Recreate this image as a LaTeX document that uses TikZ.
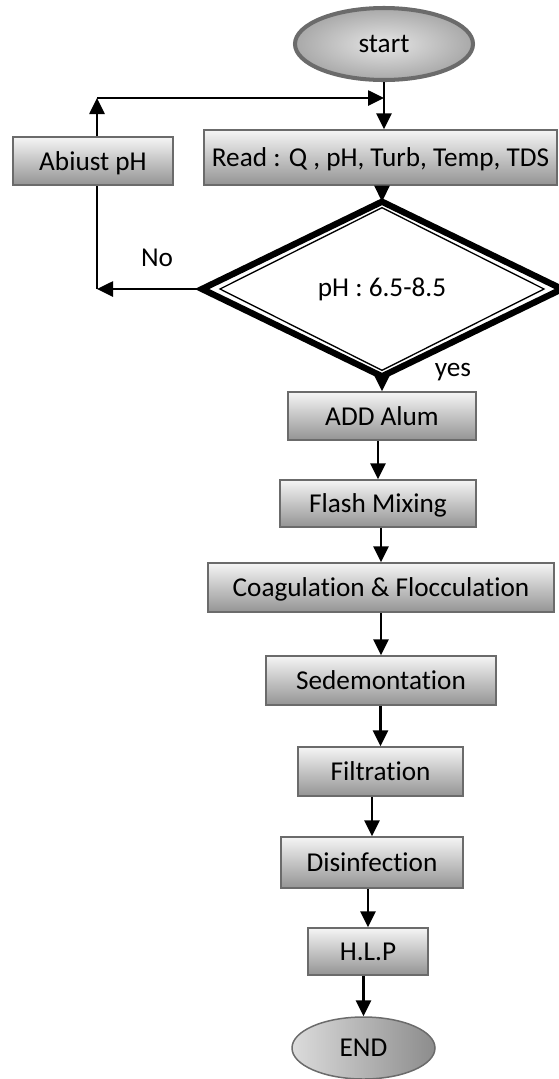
\documentclass[tikz,border=0pt]{standalone}
\usepackage{fontspec}
\setmainfont[Ligatures=NoCommon]{Carlito}
\usepackage{tikz}
\usetikzlibrary{shapes,arrows.meta,positioning}
\tikzstyle{box} = [rectangle, draw=black!58, line width=0.85pt, top color=black!4, bottom color=black!42, font=\fontsize{15.5}{18}\selectfont, inner sep=0pt, text depth=0pt]
\tikzstyle{term} = [ellipse, draw=black!58, font=\fontsize{15.5}{18}\selectfont, inner sep=0pt]
\tikzstyle{arrow} = [line width=1.5pt, -{Triangle[length=0.32cm, width=0.3cm]}]
\tikzstyle{line} = [draw, line width=1.5pt]

\begin{document}
\begin{tikzpicture}
        \useasboundingbox (0,0) rectangle (11.16,-21.58);
        \node (start) [term, xshift=7.68cm, yshift=-0.88cm, minimum width=3.56cm, minimum height=1.44cm, line width=2.3pt, inner color=black!10, outer color=black!34] {start};
        \node (read) [box, xshift=7.61cm, yshift=-3.15cm, minimum width=7.06cm, minimum height=1.1cm] {Read : Q , pH, Turb, Temp, TDS};
        \node (adj) [box, xshift=1.86cm, yshift=-3.22cm, minimum width=3.2cm, minimum height=0.96cm] {Abiust pH};
        \node (phchk) [diamond, draw=black, line width=3.6pt, fill=white, outer sep=0pt, xshift=7.64cm, yshift=-5.78cm, minimum width=7.2cm, minimum height=2.42cm, font=\fontsize{15.5}{18}\selectfont] {pH : 6.5-8.5};
        \draw [line width=0.75pt] ([yshift=-0.12cm]phchk.north) -- ([xshift=-0.36cm]phchk.east) -- ([yshift=0.12cm]phchk.south) -- ([xshift=0.36cm]phchk.west) -- cycle;
        \node (No) [xshift=3.14cm, yshift=-5.16cm, font=\fontsize{15.5}{18}\selectfont] {No};
        \node (yes) [xshift=9.06cm, yshift=-7.44cm, font=\fontsize{15.5}{18}\selectfont] {yes};

        \node (add) [box, xshift=7.64cm, yshift=-8.32cm, minimum width=3.76cm, minimum height=0.96cm] {ADD Alum};
        \node (flash) [box, xshift=7.56cm, yshift=-10.07cm, minimum width=3.92cm, minimum height=0.94cm] {Flash Mixing};
        \node (coag) [box, xshift=7.62cm, yshift=-11.75cm, minimum width=6.92cm, minimum height=0.98cm] {Coagulation \& Flocculation};
        \node (sed) [box, xshift=7.62cm, yshift=-13.61cm, minimum width=4.6cm, minimum height=0.98cm] {Sedemontation};
        \node (filt) [box, xshift=7.61cm, yshift=-15.43cm, minimum width=3.3cm, minimum height=0.98cm] {Filtration};
        \node (dis) [box, xshift=7.44cm, yshift=-17.25cm, minimum width=3.64cm, minimum height=1.02cm] {Disinfection};
        \node (hlp) [box, xshift=7.36cm, yshift=-19.03cm, minimum width=2.4cm, minimum height=0.94cm] {H.L.P};
        \node (end) [term, xshift=7.27cm, yshift=-20.96cm, minimum width=2.86cm, minimum height=1.24cm, line width=0.85pt, left color=black!14, right color=black!45] {END};

        % loop back to read
        \coordinate (up) at (1.94,-1.96);
        \draw [arrow] (start.south) -- (start.south |- read.north);
        \draw [arrow] (up |- adj.north) -- (up);
        \draw [arrow] (up) -- (up -| start.south);
        \draw [arrow] (phchk.north |- read.south) -- (phchk.north);
        \draw [arrow] (phchk.west) -- (up |- phchk.west);
        \path [line] (up |- phchk.west) -- (up |- adj.south);

        \draw [arrow] (phchk.south) -- (add.north);
        \draw [arrow] (flash.north |- add.south) -- (flash.north);
        \draw [arrow] (coag.north |- flash.south) -- (coag.north);
        \draw [arrow] (sed.north |- coag.south) -- (sed.north);
        \draw [arrow] (filt.north |- sed.south) -- (filt.north);
        \draw [arrow] (dis.north |- filt.south) -- (dis.north);
        \draw [arrow] (hlp.north |- dis.south) -- (hlp.north);
        \draw [arrow] (end.north |- hlp.south) -- (end.north);
    \end{tikzpicture}
\end{document}
